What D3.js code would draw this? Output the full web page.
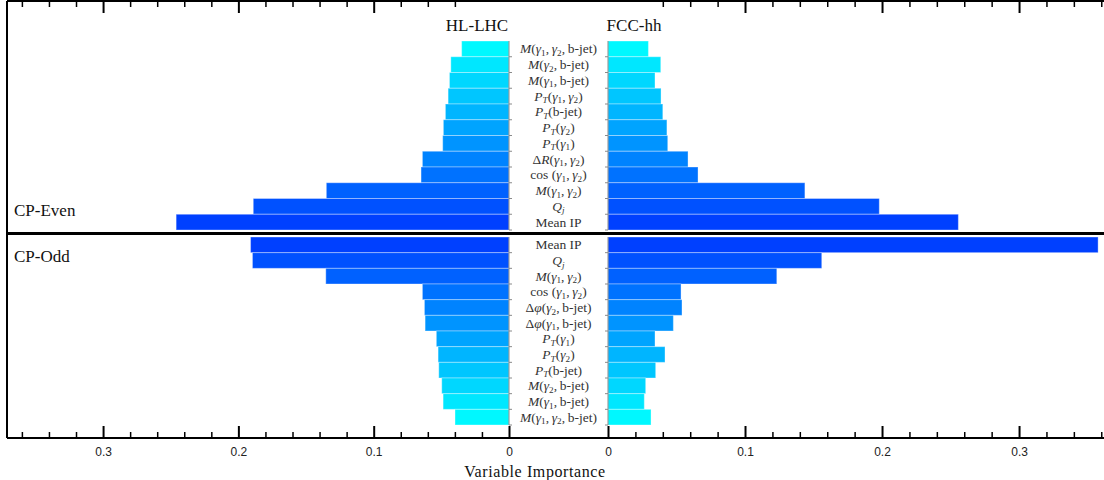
<!DOCTYPE html>
<html>
<head>
<meta charset="utf-8">
<script src="https://cdn.jsdelivr.net/npm/d3@7"></script>
<style>
  body { margin: 0; background: #fff; }
  svg { display: block; }
  .tick-label text { font-family: "Liberation Sans", Arial, sans-serif; font-size: 12px; fill: #222; }
  .serif { font-family: "Liberation Serif", "DejaVu Serif", serif; fill: #111; }
  .var-label { fill: #333; }
</style>
</head>
<body>
<div id="chart"></div>
<script>
// DATA
// labels use {x} for italic and _c for a one-character subscript
const evenLabels = ["{M}({γ}_1, {γ}_2, b-jet)", "{M}({γ}_2, b-jet)", "{M}({γ}_1, b-jet)",
  "{P}_T({γ}_1, {γ}_2)", "{P}_T(b-jet)", "{P}_T({γ}_2)", "{P}_T({γ}_1)",
  "Δ{R}({γ}_1, {γ}_2)", "cos ({γ}_1, {γ}_2)", "{M}({γ}_1, {γ}_2)", "{Q}_j", "Mean IP"];
const evenHL = [0.035, 0.043, 0.044, 0.045, 0.047, 0.0485, 0.049, 0.064, 0.065, 0.135, 0.189, 0.246];
const evenFCC = [0.0295, 0.0385, 0.0343, 0.0387, 0.040, 0.043, 0.0436, 0.0584, 0.0657, 0.1437, 0.198, 0.2557];

const oddLabels = ["Mean IP", "{Q}_j", "{M}({γ}_1, {γ}_2)", "cos ({γ}_1, {γ}_2)",
  "Δ{φ}({γ}_2, b-jet)", "Δ{φ}({γ}_1, b-jet)", "{P}_T({γ}_1)", "{P}_T({γ}_2)",
  "{P}_T(b-jet)", "{M}({γ}_2, b-jet)", "{M}({γ}_1, b-jet)", "{M}({γ}_1, {γ}_2, b-jet)"];
const oddHL = [0.191, 0.1896, 0.1354, 0.064, 0.0625, 0.062, 0.0537, 0.0524, 0.0519, 0.0497, 0.0487, 0.0399];
const oddFCC = [0.3577, 0.156, 0.1232, 0.0533, 0.054, 0.0477, 0.0343, 0.0416, 0.0348, 0.0275, 0.0265, 0.0314];

const majorTicks = [0, 0.1, 0.2, 0.3];
const panelTitles = ["HL-LHC", "FCC-hh"];
const groupTitles = ["CP-Even", "CP-Odd"];
const xTitle = "Variable Importance";

// LAYOUT
const width = 1104, height = 480;
const frame = { left: 7, top: 1, bottom: 438, right: 1104 };
const zeroL = 509, zeroR = 608;

const svg = d3.select("#chart").append("svg")
  .attr("width", width).attr("height", height);

// SCALES
const xL = d3.scaleLinear().domain([0, 0.371]).range([zeroL, frame.left]);
const xR = d3.scaleLinear().domain([0, 0.362]).range([zeroR, frame.right]);
const yEven = d3.scaleBand().domain(d3.range(evenLabels.length)).range([41, 230]);
const yOdd = d3.scaleBand().domain(d3.range(oddLabels.length)).range([237, 425]);
const color = d3.interpolateRgb("#00f8ff", "#0040ff");

// bars
function drawBars(vals, y, x, side, rankFn) {
  svg.append("g").selectAll("rect")
    .data(vals)
    .join("rect")
    .attr("x", (d) => side === "left" ? x(d) : x(0))
    .attr("width", (d) => Math.abs(x(d) - x(0)))
    .attr("y", (d, i) => y(i))
    .attr("height", y.bandwidth())
    .attr("fill", (d, i) => color(rankFn(i)))
    .attr("stroke", "rgba(255,255,255,0.35)")
    .attr("stroke-width", 1);
}
const n = evenLabels.length - 1;
drawBars(evenHL, yEven, xL, "left", (i) => i / n);
drawBars(evenFCC, yEven, xR, "right", (i) => i / n);
drawBars(oddHL, yOdd, xL, "left", (i) => 1 - i / n);
drawBars(oddFCC, yOdd, xR, "right", (i) => 1 - i / n);

// category axis lines (grey) with small ticks on band edges
[[zeroL, 1], [zeroR, -1]].forEach(([xx, dir]) => {
  [yEven, yOdd].forEach((y) => {
    const g = svg.append("g").attr("stroke", "#8a8a8a").attr("stroke-width", 1);
    g.append("line").attr("x1", xx).attr("x2", xx)
      .attr("y1", y.range()[0]).attr("y2", y.range()[1]);
    g.selectAll(".ct").data(y.domain()).join("line")
      .attr("x1", xx).attr("x2", xx + dir * 3)
      .attr("y1", (i) => y(i) + y.bandwidth()).attr("y2", (i) => y(i) + y.bandwidth());
  });
});

// variable labels
function addLabel(sel, str) {
  const re = /\{([^}]+)\}|_(.)|([^{_]+)/g;
  let m, shifted = false;
  while ((m = re.exec(str)) !== null) {
    const t = sel.append("tspan");
    if (m[2] !== undefined) {
      t.text(m[2]).attr("font-size", "68%").attr("dy", 2.5);
      if (/[A-Za-z]/.test(m[2])) t.attr("font-style", "italic");
      shifted = true;
    } else {
      if (shifted) { t.attr("dy", -2.5); shifted = false; }
      if (m[1] !== undefined) t.text(m[1]).attr("font-style", "italic");
      else t.text(m[3].replace(/, /g, ",\u2009"));
    }
  }
}
[[evenLabels, yEven], [oddLabels, yOdd]].forEach(([labels, y]) => {
  svg.append("g").selectAll("text")
    .data(labels)
    .join("text")
    .attr("class", "serif var-label")
    .attr("font-size", 13.5)
    .attr("text-anchor", "middle")
    .attr("x", (zeroL + zeroR) / 2)
    .attr("y", (d, i) => y(i) + y.bandwidth() / 2 + 4.5)
    .each(function (d) { addLabel(d3.select(this), d); });
});

// X AXES (bottom with labels, top mirrored ticks)
const minorL = d3.range(0, 0.37, 0.02).filter((v) => Math.round(v * 100) % 10 !== 0);
const minorR = d3.range(0, 0.362, 0.02).filter((v) => Math.round(v * 100) % 10 !== 0);

function addAxis(scale, minor) {
  // bottom major
  svg.append("g").attr("class", "tick-label")
    .attr("transform", `translate(0,${frame.bottom})`)
    .call(d3.axisBottom(scale).tickValues(majorTicks).tickSize(-12).tickPadding(9)
      .tickFormat(d3.format("")))
    .call((g) => g.select(".domain").remove())
    .call((g) => g.selectAll("line").attr("stroke", "#000").attr("stroke-width", 2));
  // bottom minor
  svg.append("g")
    .attr("transform", `translate(0,${frame.bottom})`)
    .call(d3.axisBottom(scale).tickValues(minor).tickSize(-6).tickFormat(""))
    .call((g) => g.select(".domain").remove())
    .call((g) => g.selectAll("line").attr("stroke", "#000").attr("stroke-width", 1.5));
  // top (no ticks near zero in the picture)
  svg.append("g")
    .attr("transform", `translate(0,${frame.top})`)
    .call(d3.axisTop(scale).tickValues(majorTicks.filter((v) => v > 0.03)).tickSize(-12).tickFormat(""))
    .call((g) => g.select(".domain").remove())
    .call((g) => g.selectAll("line").attr("stroke", "#000").attr("stroke-width", 2));
  svg.append("g")
    .attr("transform", `translate(0,${frame.top})`)
    .call(d3.axisTop(scale).tickValues(minor.filter((v) => v > 0.03)).tickSize(-6).tickFormat(""))
    .call((g) => g.select(".domain").remove())
    .call((g) => g.selectAll("line").attr("stroke", "#000").attr("stroke-width", 1.5));
}
addAxis(xL, minorL);
addAxis(xR, minorR);

// frame
const fr = svg.append("g").attr("stroke", "#000").attr("stroke-width", 2);
fr.append("line").attr("x1", frame.left).attr("x2", frame.right).attr("y1", frame.top).attr("y2", frame.top);
fr.append("line").attr("x1", frame.left).attr("x2", frame.right).attr("y1", frame.bottom).attr("y2", frame.bottom);
fr.append("line").attr("x1", frame.left).attr("x2", frame.left).attr("y1", frame.top).attr("y2", frame.bottom);
// CP-Even / CP-Odd divider
svg.append("line")
  .attr("x1", frame.left).attr("x2", frame.right)
  .attr("y1", (yEven.range()[1] + yOdd.range()[0]) / 2)
  .attr("y2", (yEven.range()[1] + yOdd.range()[0]) / 2)
  .attr("stroke", "#000").attr("stroke-width", 3);

// titles
svg.append("text").attr("class", "serif").attr("font-size", 17)
  .attr("text-anchor", "middle").attr("x", 477).attr("y", 31).text(panelTitles[0]);
svg.append("text").attr("class", "serif").attr("font-size", 17)
  .attr("text-anchor", "middle").attr("x", 634).attr("y", 31).text(panelTitles[1]);
svg.append("text").attr("class", "serif").attr("font-size", 17)
  .attr("x", 14).attr("y", 216).text(groupTitles[0]);
svg.append("text").attr("class", "serif").attr("font-size", 17)
  .attr("x", 14).attr("y", 262).text(groupTitles[1]);
svg.append("text").attr("class", "serif").attr("font-size", 16)
  .attr("letter-spacing", 0.6)
  .attr("text-anchor", "middle").attr("x", 535).attr("y", 477).text(xTitle);
</script>
</body>
</html>
